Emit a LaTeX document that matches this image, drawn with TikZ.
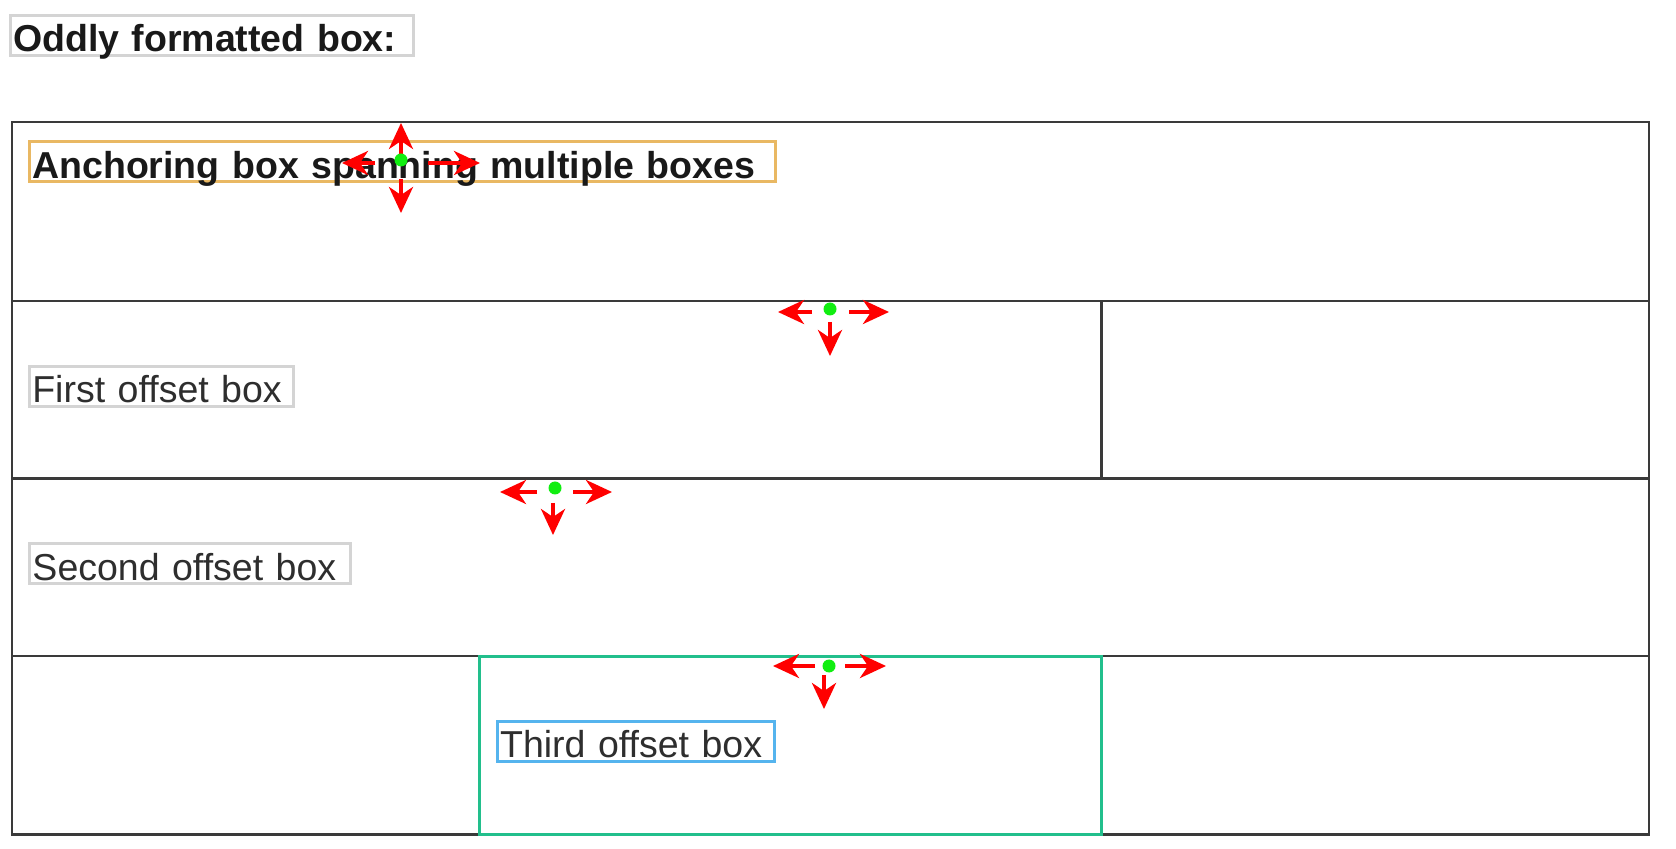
\documentclass[tikz,border=0pt]{standalone}
\usepackage{fontspec}
\setmainfont{Liberation Sans}
\usetikzlibrary{arrows.meta}
\definecolor{tline}{HTML}{3A3A3A}
\definecolor{boxgray}{HTML}{D4D4D4}
\definecolor{anchororange}{HTML}{E9B863}
\definecolor{cellgreen}{HTML}{22BF8C}
\definecolor{boxblue}{HTML}{55B4EE}
\definecolor{txtgray}{HTML}{2E2E2E}
\definecolor{dotgreen}{HTML}{11EE11}
\begin{document}
\begin{tikzpicture}[x=0.5pt,y=-0.5pt,
  labelbox/.style={draw=boxgray, line width=1.5pt, anchor=north west, inner xsep=1.5pt, inner ysep=0pt,
    text height=18.25pt, text depth=1.75pt, align=left, font=\fontsize{18.75}{22}\selectfont, text=txtgray},
  boldbox/.style={labelbox, font=\fontsize{18.75}{22}\selectfont\bfseries, text=black!90},
  tableline/.style={draw=tline, line width=1.1pt},
  hoverarrow/.style={draw=red, line width=2pt, -{Stealth[length=13pt,width=12pt,inset=4pt]}},
  hoverdot/.style={circle, fill=dotgreen, draw=none, inner sep=0pt, minimum size=6.5pt},
]
\useasboundingbox (0,0) rectangle (1676,849);
\fill[white] (0,0) rectangle (1676,849);

% title
\node[boldbox, text width=198.5pt] (title) at (8.5,14) {Oddly formatted box:};

% table
\draw[tableline] (11.8,122) rectangle (1649,834.5);
\draw[tableline] (11.8,300.8) -- (1649,300.8);
\draw[tableline] (11.8,478.5) -- (1649,478.5);
\draw[tableline] (11.8,656.2) -- (1649,656.2);
\draw[tableline] (1101.5,300.8) -- (1101.5,478.5);
\draw[draw=cellgreen, line width=1.5pt] (479.6,657) rectangle (1101.5,834);

% label boxes
\node[boldbox, draw=anchororange, text width=370pt] (anchorbox) at (27.8,140.5) {Anchoring box spanning multiple boxes};
\node[labelbox, text width=129pt] (first) at (27.8,365) {First offset box};
\node[labelbox, text width=157.5pt] (second) at (28,542.5) {Second offset box};
\node[labelbox, draw=boxblue, text width=135.5pt] (third) at (495.6,719.5) {Third offset box};

% hover markers
\coordinate (m1) at (401,160);
\coordinate (m2) at (830,309);
\coordinate (m3) at (555,488);
\coordinate (m4) at (829,666);

\draw[hoverarrow] (401,156) -- (401,123);
\draw[hoverarrow] (401,179) -- (401,213);
\draw[hoverarrow] (375,163) -- (342,163);
\draw[hoverarrow] (428,163) -- (480,163);
\node[hoverdot] (d1) at (m1) {};

\draw[hoverarrow] (812,312) -- (778,312);
\draw[hoverarrow] (849,312) -- (889,312);
\draw[hoverarrow] (830,322) -- (830,356);
\node[hoverdot] (d2) at (m2) {};

\draw[hoverarrow] (537,492) -- (500,492);
\draw[hoverarrow] (573,492) -- (612,492);
\draw[hoverarrow] (553,503) -- (553,535);
\node[hoverdot] (d3) at (m3) {};

\draw[hoverarrow] (815,666) -- (773,666);
\draw[hoverarrow] (845,666) -- (886,666);
\draw[hoverarrow] (824,675) -- (824,709);
\node[hoverdot] (d4) at (m4) {};
\end{tikzpicture}
\end{document}
